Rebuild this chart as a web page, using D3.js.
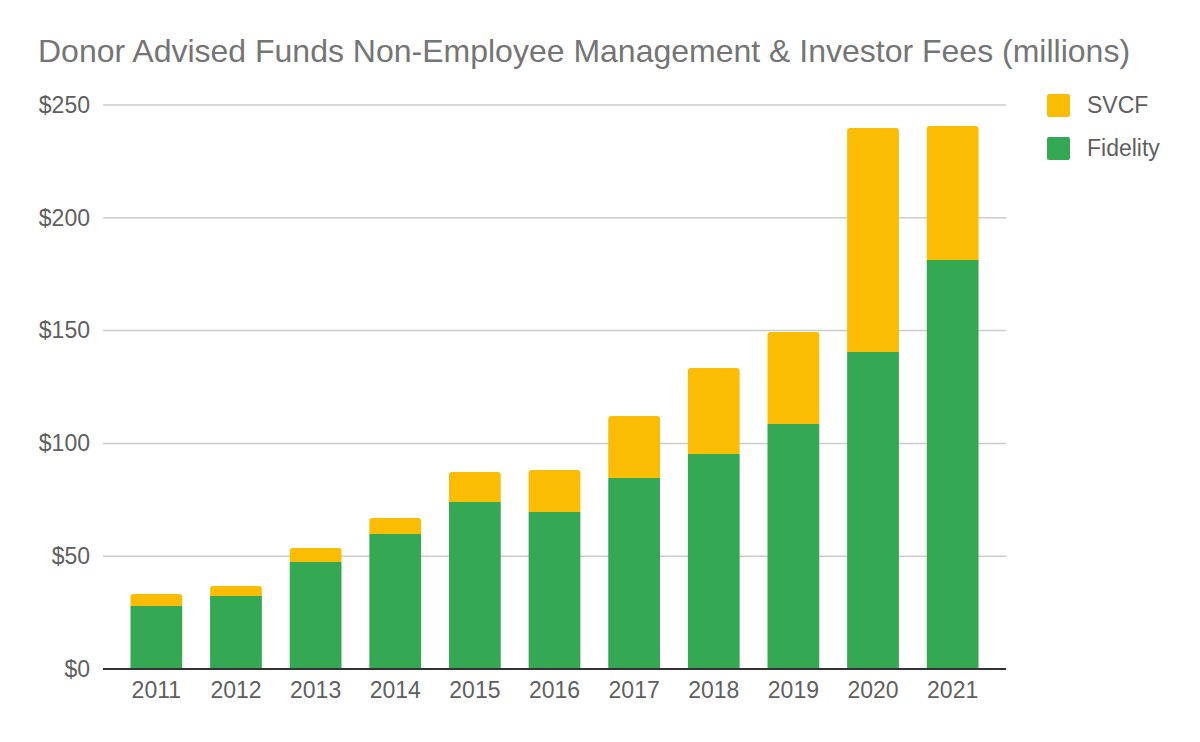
<!DOCTYPE html>
<html>
<head>
<meta charset="utf-8">
<script src="https://cdn.jsdelivr.net/npm/d3@7"></script>
<style>
  body { margin: 0; background: #fff; }
  svg { display: block; font-family: "Liberation Sans", Arial, sans-serif; }
</style>
</head>
<body>
<svg id="chart" width="1200" height="742"></svg>
<script>
// data (millions of dollars)
var years = ['2011','2012','2013','2014','2015','2016','2017','2018','2019','2020','2021'];
var fidelity = [27.9, 32.4, 47.4, 59.8, 74.0, 69.6, 84.7, 95.3, 108.6, 140.5, 181.3];
var svcf = [5.3, 4.4, 6.2, 7.1, 13.3, 18.6, 27.4, 38.1, 40.8, 99.3, 59.4];
var y_ticks = [0, 50, 100, 150, 200, 250];
var series_names = ['SVCF', 'Fidelity'];
var series_colors = {'SVCF': '#fbbc04', 'Fidelity': '#34a853'};

var svg = d3.select('#chart');

var plot_left = 103, plot_right = 1006;
var plot_top = 105, plot_bottom = 669;
var label_size = '23px';

var x = d3.scaleBand()
  .domain(years)
  .range([plot_left, plot_right])
  .paddingInner(0.35)
  .paddingOuter(0.345);

var y = d3.scaleLinear()
  .domain([0, 250])
  .range([plot_bottom, plot_top]);

// title
svg.append('text')
  .attr('x', 38)
  .attr('y', 62)
  .style('font-size', '32px')
  .style('fill', '#757575')
  .text('Donor Advised Funds Non-Employee Management & Investor Fees (millions)');

// gridlines
svg.append('g')
  .selectAll('line')
  .data(y_ticks.filter(function(d){ return d > 0; }))
  .enter()
  .append('line')
  .attr('x1', plot_left)
  .attr('x2', plot_right)
  .attr('y1', function(d){ return y(d); })
  .attr('y2', function(d){ return y(d); })
  .style('stroke', '#cccccc')
  .style('stroke-width', 1.5);

// y axis labels
var y_axis = svg.append('g')
  .attr('transform', 'translate(' + (plot_left - 13) + ',0)')
  .call(d3.axisLeft(y).tickValues(y_ticks).tickSize(0).tickPadding(0)
    .tickFormat(function(d){ return '$' + d; }));
y_axis.select('.domain').remove();
y_axis.selectAll('text')
  .style('font-size', label_size)
  .style('fill', '#5f5f5f')
  .style('font-family', '"Liberation Sans", Arial, sans-serif');

// stacked bars
var stack_rows = years.map(function(yr, i){
  return {year: yr, Fidelity: fidelity[i], SVCF: svcf[i]};
});
var stacked = d3.stack().keys(['Fidelity', 'SVCF'])(stack_rows);

function top_rounded(x0, y0, w, h, r){
  // rectangle with rounded top corners only
  return 'M' + x0 + ',' + (y0 + h) +
    'V' + (y0 + r) +
    'Q' + x0 + ',' + y0 + ' ' + (x0 + r) + ',' + y0 +
    'H' + (x0 + w - r) +
    'Q' + (x0 + w) + ',' + y0 + ' ' + (x0 + w) + ',' + (y0 + r) +
    'V' + (y0 + h) + 'Z';
}

stacked.forEach(function(layer){
  svg.append('g')
    .selectAll('path')
    .data(layer)
    .enter()
    .append('path')
    .attr('d', function(d){
      var x0 = x(d.data.year);
      var y0 = y(d[1]);
      var h = y(d[0]) - y(d[1]);
      var r = layer.key === 'SVCF' ? 3 : 0;
      return top_rounded(x0, y0, x.bandwidth(), h, r);
    })
    .style('fill', series_colors[layer.key]);
});

// baseline
svg.append('line')
  .attr('x1', plot_left)
  .attr('x2', plot_right)
  .attr('y1', y(0))
  .attr('y2', y(0))
  .style('stroke', '#333333')
  .style('stroke-width', 2);

// x axis labels
var x_axis = svg.append('g')
  .attr('transform', 'translate(0,' + (plot_bottom + 13) + ')')
  .call(d3.axisBottom(x).tickSize(0).tickPadding(0));
x_axis.select('.domain').remove();
x_axis.selectAll('text')
  .attr('dy', '0.71em')
  .style('font-size', label_size)
  .style('fill', '#5f5f5f')
  .style('font-family', '"Liberation Sans", Arial, sans-serif');

// legend
var legend = svg.append('g')
  .selectAll('g')
  .data(series_names)
  .enter()
  .append('g')
  .attr('transform', function(d, i){ return 'translate(1047,' + (94 + i * 43) + ')'; });

legend.append('rect')
  .attr('width', 23)
  .attr('height', 23)
  .attr('rx', 2)
  .style('fill', function(d){ return series_colors[d]; });

legend.append('text')
  .attr('x', 40)
  .attr('y', 19)
  .style('font-size', label_size)
  .style('fill', '#5f5f5f')
  .text(function(d){ return d; });
</script>
</body>
</html>
